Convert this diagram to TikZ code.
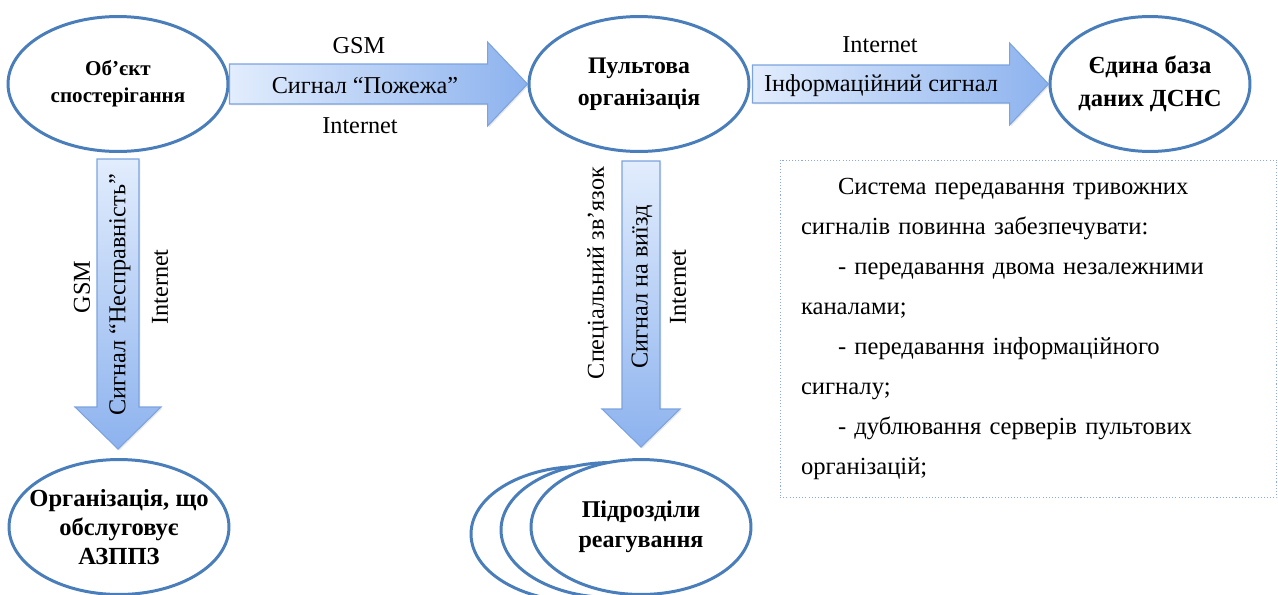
\documentclass[tikz,border=0pt]{standalone}
\usepackage{fontspec}
\setmainfont{Liberation Serif}
\usetikzlibrary{shapes.geometric,calc,shadows}

\definecolor{ringblue}{HTML}{4A7EBB}
\definecolor{arrowlight}{HTML}{E2EDFD}
\definecolor{arrowdark}{HTML}{8CB2EE}
\definecolor{arrowline}{HTML}{7BA3DE}
\definecolor{dotblue}{HTML}{8EA9DB}

\tikzset{
  place/.style={ellipse, draw=ringblue, line width=1.7pt, fill=white, align=center,
    font=\fontsize{13.5}{18}\selectfont\bfseries, inner xsep=-10pt, inner ysep=0pt,
    minimum width=4.4cm, minimum height=2.7cm},
  sigarrow/.style={draw=arrowline, line width=0.6pt,
    drop shadow={opacity=0.18, shadow xshift=0.8pt, shadow yshift=-0.8pt}},
  sigh/.style={sigarrow, left color=arrowlight, right color=arrowdark},
  sigv/.style={sigarrow, top color=arrowlight, bottom color=arrowdark},
  lbl/.style={font=\fontsize{13.8}{16}\selectfont, inner sep=1pt},
  notebox/.style={draw=dotblue, line width=0.6pt, dash pattern=on 0.6pt off 1.2pt,
    minimum width=9.94cm, minimum height=6.76cm, text width=9.1cm, align=left,
    font=\fontsize{14}{22.7}\selectfont}
}

\begin{document}
\begin{tikzpicture}[x=0.02cm,y=-0.02cm]
\useasboundingbox (0,0) rectangle (1278,595);

% ellipses
\node[place, font=\fontsize{12}{15.3}\selectfont\bfseries] (obj) at (118,84) {Об’єкт\\спостерігання};
\node[place] (pult) at (639,84) {Пультова\\організація};
\node[place, minimum width=4cm, font=\fontsize{14}{18.7}\selectfont\bfseries] (base) at (1150,84) {Єдина база\\даних ДСНС};
\node[place, font=\fontsize{14}{16.3}\selectfont\bfseries] (org) at (119,527) {Організація, що\\обслуговує\\АЗППЗ};
\node[place] (unitc) at (581,534) {};
\node[place] (unitb) at (611,530) {};
\node[place, font=\fontsize{13.7}{17}\selectfont\bfseries] (unit) at (641,527) {Підрозділи\\реагування};

% block arrows
\coordinate (a1s) at (obj.east);
\coordinate (a1e) at (pult.west);
\shade[sigh] ($(a1s)+(0,-20)$) -- ($(a1e)+(-40,-20)$) -- ($(a1e)+(-40,-42)$) -- (a1e)
  -- ($(a1e)+(-40,42)$) -- ($(a1e)+(-40,20)$) -- ($(a1s)+(0,20)$) -- cycle;

\coordinate (a2s) at ($(pult.east)+(2,0)$);
\coordinate (a2e) at (base.west);
\shade[sigh] ($(a2s)+(0,-19)$) -- ($(a2e)+(-39,-19)$) -- ($(a2e)+(-39,-41)$) -- (a2e)
  -- ($(a2e)+(-39,41)$) -- ($(a2e)+(-39,19)$) -- ($(a2s)+(0,19)$) -- cycle;

\coordinate (a3s) at ($(obj.south)+(0,6)$);
\coordinate (a3e) at ($(a3s |- org.north)+(0,-9)$);
\shade[sigv] ($(a3s)+(-21,0)$) -- ($(a3e)+(-21,-42)$) -- ($(a3e)+(-43,-42)$) -- (a3e)
  -- ($(a3e)+(43,-42)$) -- ($(a3e)+(21,-42)$) -- ($(a3s)+(21,0)$) -- cycle;

\coordinate (a4s) at ($(pult.south)+(2,8)$);
\coordinate (a4e) at ($(a4s |- unit.north)+(0,-11)$);
\shade[sigv] ($(a4s)+(-19,0)$) -- ($(a4e)+(-19,-38)$) -- ($(a4e)+(-39,-38)$) -- (a4e)
  -- ($(a4e)+(39,-38)$) -- ($(a4e)+(19,-38)$) -- ($(a4s)+(19,0)$) -- cycle;

% arrow labels
\node[lbl] (gsm1) at (359,46) {GSM};
\node[lbl] (fire) at (365,86) {Сигнал “Пожежа”};
\node[lbl] (net1) at (360,126) {Internet};
\node[lbl] (net2) at (880,45) {Internet};
\node[lbl] (info) at (881,86) {Інформаційний сигнал};
\node[lbl, rotate=90] (gsm3) at (82,287) {GSM};
\node[lbl, rotate=90] (fault) at (120,295) {Сигнал “Несправність”};
\node[lbl, rotate=90] (net3) at (160,287) {Internet};
\node[lbl, rotate=90] (spec) at (598,273) {Спеціальний зв’язок};
\node[lbl, rotate=90] (call) at (642,287) {Сигнал на виїзд};
\node[lbl, rotate=90] (net4) at (678,287) {Internet};

% note
\node[notebox] (note) at (1028.5,329) {\hspace*{0.74cm}Система передавання тривожних\\
сигналів повинна забезпечувати:\\
\hspace*{0.74cm}- передавання двома незалежними\\
каналами;\\
\hspace*{0.74cm}- передавання інформаційного\\
сигналу;\\
\hspace*{0.74cm}- дублювання серверів пультових\\
організацій;};
\end{tikzpicture}
\end{document}
